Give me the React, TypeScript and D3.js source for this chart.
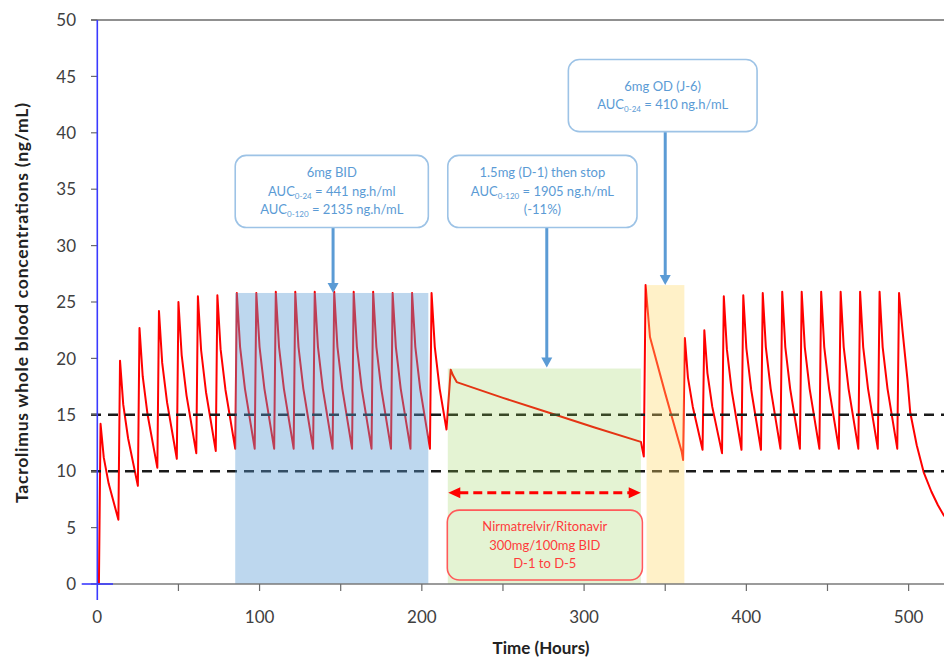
import React from 'react';
import * as d3 from 'd3';

const width = 944;
const height = 659;

// tacrolimus concentrations (ng/mL)
// 6mg BID phase: time (h) where the rise starts, trough before it, peak 1h later,
// values 2h and 5h after the peak
const bidRise1 = [1, 13, 25, 37, 49, 61, 73, 85, 97, 109, 121, 133, 145, 157, 169, 181, 193, 205];
const bidTrough1 = [0, 5.7, 8.7, 10.3, 11.1, 11.6, 11.8, 12.0, 12.0, 12.0, 12.0, 12.0, 12.0, 12.0, 12.0, 12.0, 12.0, 12.0];
const bidPeak1 = [14.2, 19.8, 22.7, 24.2, 25.0, 25.5, 25.6, 25.8, 25.8, 25.9, 25.9, 25.9, 25.9, 25.9, 25.9, 25.8, 25.8, 25.8];
const bidEarly1 = [11.2, 15.9, 18.4, 19.6, 20.3, 20.7, 20.8, 21.0, 21.0, 21.0, 21.0, 21.0, 21.0, 21.0, 21.0, 21.0, 21.0, 21.0];
const bidLate1 = [8.9, 12.9, 15.0, 16.1, 16.7, 17.0, 17.2, 17.3, 17.3, 17.3, 17.3, 17.3, 17.3, 17.3, 17.3, 17.3, 17.3, 17.3];

// 1.5mg then stop, then 6mg OD
const switchPoints: [number, number][] = [
  [215.2, 13.7], [217.8, 19.0], [219.2, 18.5], [221.5, 17.9], [250, 16.5], [278, 15.2], [306, 13.9], [335, 12.6],
  [336.8, 11.3], [337.9, 26.5], [340.6, 21.9], [350, 16.9], [360.2, 11.7],
];

// back to BID
const bidRise2 = [361, 373, 385, 397, 409, 421, 433, 445, 457, 469, 481, 493];
const bidTrough2 = [11.0, 11.9, 11.6, 11.9, 11.9, 12.0, 12.0, 12.0, 12.0, 12.0, 12.0, 12.0];
const bidPeak2 = [21.8, 22.5, 25.5, 25.6, 25.8, 25.9, 25.9, 25.9, 25.9, 25.9, 25.9, 25.8];
const bidEarly2 = [18.3, 18.7, 20.8, 20.9, 21.0, 21.0, 21.0, 21.0, 21.0, 21.0, 21.0];
const bidLate2 = [15.7, 15.7, 17.1, 17.2, 17.3, 17.3, 17.3, 17.3, 17.3, 17.3, 17.3];

// washout after last dose
const tailPoints: [number, number][] = [
  [496.2, 22.5], [499.3, 18.1], [501, 15.2], [505, 12.3], [509.3, 9.9], [514, 8.2], [518, 7.0], [522, 6.0],
];

const thresholds = [15, 10];
const yTicks = [0, 5, 10, 15, 20, 25, 30, 35, 40, 45, 50];
const xTicks = [50, 100, 150, 200, 250, 300, 350, 400, 450, 500];
const xLabels = [0, 100, 200, 300, 400, 500];

// shaded periods: [start h, end h, top ng/mL]
const bluePeriod = [85, 204, 25.8];
const greenPeriod = [216, 335, 19.1];
const yellowPeriod = [338.5, 361.8, 26.5];

type Seg = { t: string; sub?: boolean };
const notes: { x0: number; x1: number; top: number; bottom: number; arrowX: number; arrowTo: number; lines: Seg[][] }[] = [
  {
    x0: 85, x1: 204, top: 38.0, bottom: 31.6, arrowX: 145.3, arrowTo: 25.8,
    lines: [
      [{ t: '6mg BID' }],
      [{ t: 'AUC' }, { t: '0-24', sub: true }, { t: ' = 441 ng.h/ml' }],
      [{ t: 'AUC' }, { t: '0-120', sub: true }, { t: ' = 2135 ng.h/mL' }],
    ],
  },
  {
    x0: 216, x1: 332.6, top: 38.0, bottom: 31.6, arrowX: 277, arrowTo: 19.2,
    lines: [
      [{ t: '1.5mg (D-1) then stop' }],
      [{ t: 'AUC' }, { t: '0-120', sub: true }, { t: ' = 1905 ng.h/mL' }],
      [{ t: '(-11%)' }],
    ],
  },
  {
    x0: 290.3, x1: 406.6, top: 46.5, bottom: 40.1, arrowX: 350, arrowTo: 26.5,
    lines: [
      [{ t: '6mg OD (J-6)' }],
      [{ t: 'AUC' }, { t: '0-24', sub: true }, { t: ' = 410 ng.h/mL' }],
    ],
  },
];

const drugLines = ['Nirmatrelvir/Ritonavir', '300mg/100mg BID', 'D-1 to D-5'];
const drugBox = [215.7, 335.9, 6.55, 0.35];
const drugArrow = [216.3, 334.9, 8.1];

const font = 'Lato, "Open Sans", sans-serif';

function buildCurve(): [number, number][] {
  const pts: [number, number][] = [[0, 0]];
  bidRise1.forEach((t, i) => {
    pts.push([t, bidTrough1[i]], [t + 1, bidPeak1[i]], [t + 3, bidEarly1[i]], [t + 6, bidLate1[i]]);
  });
  switchPoints.forEach((p) => pts.push(p));
  bidRise2.forEach((t, i) => {
    pts.push([t, bidTrough2[i]], [t + 1.1, bidPeak2[i]]);
    if (bidEarly2[i] !== undefined) pts.push([t + 3, bidEarly2[i]], [t + 6, bidLate2[i]]);
  });
  tailPoints.forEach((p) => pts.push(p));
  return pts;
}

const App = () => {
  const x = d3.scaleLinear().domain([0, 521.8]).range([97.3, 944]);
  const y = d3.scaleLinear().domain([0, 50]).range([584, 20]);

  const line = d3
    .line<[number, number]>()
    .x((d) => x(d[0]))
    .y((d) => y(d[1]));

  const curve = buildCurve();

  const period = (p: number[], fill: string, opacity: number) => (
    <rect x={x(p[0])} y={y(p[2])} width={x(p[1]) - x(p[0])} height={y(0) - y(p[2])} fill={fill} fillOpacity={opacity} />
  );

  const lineGap = 18.5;

  return (
    <svg width={width} height={height} style={{ position: 'absolute', left: 0, top: 0, background: '#fff' }} fontFamily={font}>
      <path d={line(curve) || ''} fill="none" stroke="#ff0000" strokeWidth={2} strokeLinejoin="round" />

      {thresholds.map((v) => (
        <line key={v} x1={91} x2={width} y1={y(v)} y2={y(v)} stroke="#1a1a1a" strokeWidth={2.5} strokeDasharray="10 7" />
      ))}

      {period(bluePeriod, '#5b9bd5', 0.4)}
      {period(greenPeriod, '#92d050', 0.25)}
      {period(yellowPeriod, '#ffd966', 0.36)}

      {/* axes */}
      <line x1={91} x2={width} y1={y(50)} y2={y(50)} stroke="#6b6b6b" strokeWidth={1.5} />
      <line x1={x(0)} x2={width} y1={y(0)} y2={y(0)} stroke="#7a7a7a" strokeWidth={1.5} />
      {yTicks.map((v) => (
        <g key={v}>
          <line x1={91} x2={x(0)} y1={y(v)} y2={y(v)} stroke="#6b6b6b" strokeWidth={1.2} />
          <text x={76} y={y(v)} dy="0.36em" textAnchor="end" fontSize={17} fill="#404040">
            {v}
          </text>
        </g>
      ))}
      {xTicks.map((v) => (
        <line key={v} x1={x(v)} x2={x(v)} y1={y(0)} y2={y(0) + 7} stroke="#6b6b6b" strokeWidth={1.2} />
      ))}
      {xLabels.map((v) => (
        <text key={v} x={x(v)} y={623} textAnchor="middle" fontSize={17} fill="#404040">
          {v}
        </text>
      ))}
      <line x1={x(0)} x2={x(0)} y1={y(50)} y2={600} stroke="#3a3aff" strokeWidth={1.6} />
      <line x1={81.7} x2={113} y1={y(0)} y2={y(0)} stroke="#3a3aff" strokeWidth={1.6} />

      <text x={541} y={654} textAnchor="middle" fontSize={17} fontWeight="bold" fill="#222">
        Time (Hours)
      </text>
      <text
        transform={`translate(28, 303) rotate(-90)`}
        textAnchor="middle"
        fontSize={17.5}
        fontWeight="bold"
        fill="#222"
        textLength={400}
        lengthAdjust="spacing"
      >
        Tacrolimus whole blood concentrations (ng/mL)
      </text>

      {/* blue callouts */}
      {notes.map((n, i) => {
        const bx = x(n.x0);
        const bw = x(n.x1) - x(n.x0);
        const by = y(n.top);
        const bh = y(n.bottom) - y(n.top);
        const cy = by + bh / 2;
        const ax = x(n.arrowX);
        const tipY = y(n.arrowTo);
        return (
          <g key={i}>
            <line x1={ax} x2={ax} y1={by + bh} y2={tipY - 9} stroke="#5b9bd5" strokeWidth={3} />
            <path d={`M${ax - 5.5},${tipY - 10} L${ax + 5.5},${tipY - 10} L${ax},${tipY} Z`} fill="#5b9bd5" />
            <rect x={bx} y={by} width={bw} height={bh} rx={11} fill="#fff" stroke="#9dc3e6" strokeWidth={1.6} />
            {n.lines.map((segs, j) => (
              <text
                key={j}
                x={bx + bw / 2}
                y={cy + (j - (n.lines.length - 1) / 2) * lineGap + 4.5}
                textAnchor="middle"
                fontSize={13}
                fill="#5b9bd5"
              >
                {segs.map((s, k) =>
                  s.sub ? (
                    <tspan key={k} fontSize={8} dy={3}>
                      {s.t}
                    </tspan>
                  ) : (
                    <tspan key={k} dy={k > 0 && segs[k - 1].sub ? -3 : 0}>
                      {s.t}
                    </tspan>
                  )
                )}
              </text>
            ))}
          </g>
        );
      })}

      {/* drug period */}
      <line x1={x(drugArrow[0]) + 11} x2={x(drugArrow[1]) - 11} y1={y(drugArrow[2])} y2={y(drugArrow[2])} stroke="#ff0000" strokeWidth={3} strokeDasharray="9 5" />
      <path
        d={`M${x(drugArrow[0])},${y(drugArrow[2])} l12,-5.5 l0,11 Z M${x(drugArrow[1])},${y(drugArrow[2])} l-12,-5.5 l0,11 Z`}
        fill="#ff0000"
      />
      <rect
        x={x(drugBox[0])}
        y={y(drugBox[2])}
        width={x(drugBox[1]) - x(drugBox[0])}
        height={y(drugBox[3]) - y(drugBox[2])}
        rx={12}
        fill="none"
        stroke="#ff5a5a"
        strokeWidth={1.6}
      />
      {drugLines.map((t, j) => (
        <text
          key={j}
          x={(x(drugBox[0]) + x(drugBox[1])) / 2}
          y={(y(drugBox[2]) + y(drugBox[3])) / 2 + (j - 1) * 18.3 + 4.5}
          textAnchor="middle"
          fontSize={13}
          fill="#ff3b3b"
        >
          {t}
        </text>
      ))}
    </svg>
  );
};

export default App;
